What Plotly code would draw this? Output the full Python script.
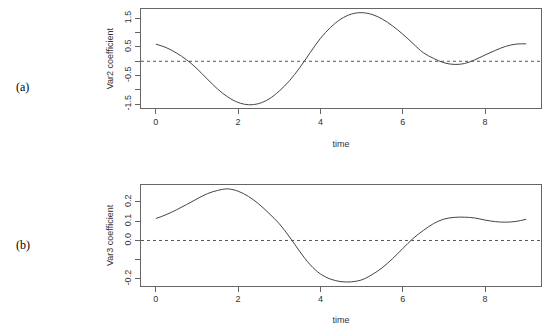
import plotly.graph_objects as go

time = [i * 0.25 for i in range(37)]

var2_coef = [0.60, 0.48, 0.29, 0.05, -0.26, -0.62, -0.97, -1.25, -1.44, -1.52,
             -1.48, -1.32, -1.04, -0.68, -0.22, 0.30, 0.80, 1.19, 1.48, 1.65,
             1.70, 1.64, 1.48, 1.24, 0.95, 0.62, 0.30, 0.10, -0.05, -0.11,
             -0.08, 0.05, 0.22, 0.38, 0.52, 0.60, 0.61]

var3_coef = [0.114, 0.134, 0.159, 0.187, 0.216, 0.243, 0.260, 0.268, 0.256, 0.229,
             0.190, 0.141, 0.087, 0.018, -0.058, -0.126, -0.174, -0.201, -0.214, -0.215,
             -0.205, -0.178, -0.142, -0.095, -0.042, 0.010, 0.052, 0.088, 0.111, 0.120,
             0.121, 0.117, 0.106, 0.098, 0.095, 0.099, 0.110]

x_ticks = [0, 2, 4, 6, 8]
y2_ticks = [-1.5, -1.0, -0.5, 0.0, 0.5, 1.0, 1.5]
y2_labels = ["-1.5", "", "-0.5", "", "0.5", "", "1.5"]
y3_ticks = [-0.2, -0.1, 0.0, 0.1, 0.2]
y3_labels = ["-0.2", "", "0.0", "0.1", "0.2"]

# page body has an 8px margin; size figure to fit inside the 550x333 window
OFF = 8
W, H = 550 - 2 * OFF, 333 - 2 * OFF

def px(x):
    return (x - OFF) / W

def py(y):
    return 1 - (y - OFF) / H

font = dict(family="Liberation Sans, Arial, sans-serif", size=9, color="#333")

fig = go.Figure()
fig.add_trace(go.Scatter(x=time, y=var2_coef, mode="lines", line=dict(color="#444", width=1, shape="spline"),
                         xaxis="x", yaxis="y", showlegend=False))
fig.add_trace(go.Scatter(x=time, y=var3_coef, mode="lines", line=dict(color="#444", width=1, shape="spline"),
                         xaxis="x2", yaxis="y2", showlegend=False))

xd = [px(141), px(541)]
ya = [py(109), py(8)]
yb = [py(289), py(187)]

axis_common = dict(showline=True, linecolor="#666", linewidth=1, mirror=True, ticks="outside",
                   ticklen=5, tickcolor="#666", showgrid=False, zeroline=False, tickfont=font)

def yr(vals):
    lo, hi = min(vals), max(vals)
    pad = (hi - lo) * 0.04
    return [lo - pad, hi + pad]

fig.update_layout(
    width=W, height=H, margin=dict(l=0, r=0, t=0, b=0),
    paper_bgcolor="white", plot_bgcolor="white", font=font,
    xaxis=dict(domain=xd, anchor="y", range=[-0.36, 9.36], tickvals=x_ticks,
               title=dict(text="time", font=font, standoff=14), **axis_common),
    yaxis=dict(domain=ya, anchor="x", range=yr(var2_coef), tickvals=y2_ticks, ticktext=y2_labels,
               tickangle=-90, title=dict(text="Var2 coefficient", font=font, standoff=8), **axis_common),
    xaxis2=dict(domain=xd, anchor="y2", range=[-0.36, 9.36], tickvals=x_ticks,
                title=dict(text="time", font=font, standoff=14), **axis_common),
    yaxis2=dict(domain=yb, anchor="x2", range=yr(var3_coef), tickvals=y3_ticks, ticktext=y3_labels,
                tickangle=-90, title=dict(text="Var3 coefficient", font=font, standoff=8), **axis_common),
)

fig.add_shape(type="line", xref="x domain", yref="y", x0=0, x1=1, y0=0, y1=0,
              line=dict(color="#555", width=1, dash="3px,3px"))
fig.add_shape(type="line", xref="x2 domain", yref="y2", x0=0, x1=1, y0=0, y1=0,
              line=dict(color="#555", width=1, dash="3px,3px"))

label_font = dict(family="Liberation Serif, Times New Roman, serif", size=12, color="#000")
fig.add_annotation(text="(a)", x=px(14), y=py(78), xref="paper", yref="paper",
                   showarrow=False, font=label_font)
fig.add_annotation(text="(b)", x=px(14), y=py(257), xref="paper", yref="paper",
                   showarrow=False, font=label_font)

fig.write_html("out.html")
